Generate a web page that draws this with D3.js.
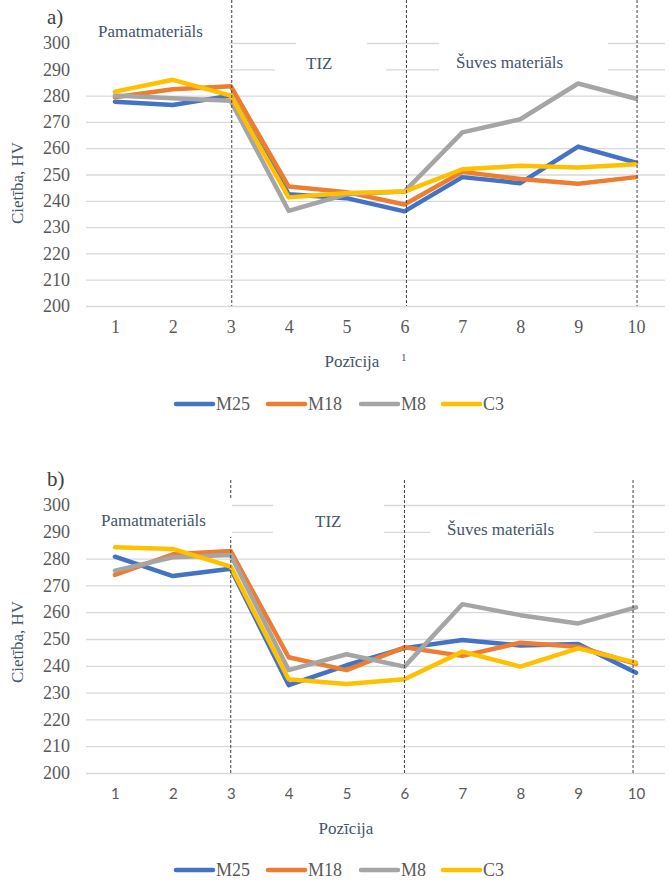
<!DOCTYPE html>
<html>
<head>
<meta charset="utf-8">
<script src="https://cdn.jsdelivr.net/npm/d3@7"></script>
<style>
  html, body { margin: 0; padding: 0; background: #fff; }
  svg { display: block; }
  .serif { font-family: "Liberation Serif", "Times New Roman", serif; }
  .sans { font-family: Lato, "Open Sans", sans-serif; }
</style>
</head>
<body>
<svg id="chart" width="670" height="890"></svg>
<script>
// Hardness profiles across the joint (positions 1–10)
const positions = [1, 2, 3, 4, 5, 6, 7, 8, 9, 10];
const seriesNames = ["M25", "M18", "M8", "C3"];
const seriesColors = ["#4472C4", "#ED7D31", "#A5A5A5", "#FFC000"];
const yTicks = [200, 210, 220, 230, 240, 250, 260, 270, 280, 290, 300];
const zoneBoundaries = [3, 6, 10];

// Panel a)
const a_M25 = [277.7, 276.4, 280.0, 242.5, 241.0, 236.0, 249.0, 246.7, 260.6, 254.5];
const a_M18 = [279.4, 282.4, 283.6, 245.4, 243.3, 238.6, 251.0, 248.3, 246.5, 249.0];
const a_M8  = [280.0, 279.0, 278.0, 236.2, 242.5, 243.5, 266.0, 271.0, 284.6, 278.8];
const a_C3  = [281.5, 286.0, 280.0, 241.3, 243.0, 243.5, 252.0, 253.3, 252.7, 253.9];

// Panel b)
const b_M25 = [280.7, 273.5, 276.2, 232.8, 240.2, 246.6, 249.6, 247.6, 248.1, 237.4];
const b_M18 = [273.9, 281.6, 282.8, 243.2, 238.4, 246.9, 243.7, 248.6, 247.1, 240.7];
const b_M8  = [275.5, 280.5, 281.3, 238.4, 244.3, 239.7, 263.0, 258.9, 255.8, 261.8];
const b_C3  = [284.2, 283.6, 277.0, 235.0, 233.2, 235.0, 245.3, 239.7, 246.5, 241.2];

const svg = d3.select("#chart");
const TITLE_COLOR = "#44546A";
const TICK_COLOR = "#595959";

function drawPanel(cfg) {
  const g = svg.append("g");
  const x = d3.scalePoint().domain(positions).range([86, 665]).padding(0.5);
  const y = d3.scaleLinear().domain([200, 300]).range([cfg.bottom, cfg.top]);

  // horizontal gridlines
  const grid = g.append("g")
    .attr("transform", "translate(86,0)")
    .call(d3.axisLeft(y).tickValues(yTicks).tickSizeInner(-(665 - 86)).tickSizeOuter(0).tickFormat(""));
  grid.select(".domain").remove();
  grid.selectAll(".tick line").attr("stroke", "#D9D9D9").attr("stroke-width", 1.3);

  // x axis with category labels
  const xAxis = g.append("g")
    .attr("transform", `translate(0,${cfg.bottom})`)
    .call(d3.axisBottom(x).tickSize(0).tickPadding(cfg.xPad));
  xAxis.attr("font-family", null);
  xAxis.select(".domain").remove();
  xAxis.selectAll(".tick text")
    .attr("class", cfg.xClass)
    .attr("fill", TICK_COLOR).attr("font-size", cfg.xSize);

  // series lines
  const line = d3.line().x((d, i) => x(positions[i])).y(d => y(d));
  cfg.data.forEach((vals, k) => {
    g.append("path")
      .datum(vals)
      .attr("d", line)
      .attr("fill", "none")
      .attr("stroke", seriesColors[k])
      .attr("stroke-width", 4.5)
      .attr("stroke-linejoin", "round")
      .attr("stroke-linecap", "round");
  });

  // zone boundaries
  zoneBoundaries.forEach((p, i) => {
    g.append("line")
      .attr("x1", x(p) + cfg.dashShift[i]).attr("x2", x(p) + cfg.dashShift[i])
      .attr("y1", cfg.dashTop).attr("y2", cfg.bottom)
      .attr("stroke", "#404040").attr("stroke-width", 1)
      .attr("stroke-dasharray", "3,2");
  });

  // text boxes (white background)
  cfg.boxes.forEach(b => {
    g.append("rect").attr("x", b[0]).attr("y", b[1]).attr("width", b[2]).attr("height", b[3]).attr("fill", "#fff");
  });
  cfg.labels.forEach(l => {
    g.append("text").attr("class", "serif").attr("x", l.x).attr("y", l.y)
      .attr("font-size", 17).attr("fill", TITLE_COLOR)
      .text(l.t);
  });

  // y tick labels
  const yLab = g.append("g")
    .attr("transform", "translate(86,0)")
    .call(d3.axisLeft(y).tickValues(yTicks).tickSize(0).tickPadding(16));
  yLab.attr("font-family", null);
  yLab.select(".domain").remove();
  yLab.selectAll(".tick text")
    .attr("class", "serif")
    .attr("fill", TICK_COLOR).attr("font-size", 18);

  // panel letter
  g.append("text").attr("class", "serif").attr("x", 47).attr("y", cfg.top - 19)
    .attr("font-size", 21).attr("fill", "#404040")
    .text(cfg.letter);

  // axis titles
  g.append("text").attr("class", "serif")
    .attr("transform", `translate(${23},${cfg.yTitleY}) rotate(-90)`)
    .attr("text-anchor", "middle")
    .attr("font-size", 17).attr("fill", TITLE_COLOR)
    .text("Cietība, HV");
  g.append("text").attr("class", "serif")
    .attr("x", cfg.xTitleX).attr("y", cfg.xTitleY)
    .attr("text-anchor", "middle")
    .attr("font-size", 17).attr("fill", TITLE_COLOR)
    .text("Pozīcija");

  // legend
  const legendX = [176, 268, 361, 443];
  seriesNames.forEach((name, k) => {
    const lg = g.append("g");
    lg.append("line")
      .attr("x1", legendX[k]).attr("x2", legendX[k] + 37)
      .attr("y1", cfg.legendY).attr("y2", cfg.legendY)
      .attr("stroke", seriesColors[k]).attr("stroke-width", 4.5).attr("stroke-linecap", "round");
    lg.append("text").attr("class", "serif")
      .attr("x", legendX[k] + 40).attr("y", cfg.legendY + 6)
      .attr("font-size", 18).attr("fill", TICK_COLOR)
      .text(name);
  });
  return g;
}

const gA = drawPanel({
  letter: "a)", top: 43, bottom: 306, dashTop: 0, dashShift: [1, 2, 1],
  data: [a_M25, a_M18, a_M8, a_C3],
  xClass: "serif", xSize: 18, xPad: 14,
  boxes: [[86, 20, 143, 56], [296, 38, 71, 10], [275, 48, 111, 30], [439, 38, 169, 40]],
  labels: [{x: 98, y: 37, t: "Pamatmateriāls"}, {x: 306, y: 69, t: "TIZ"}, {x: 456, y: 68, t: "Šuves materiāls"}],
  yTitleY: 183, xTitleX: 352, xTitleY: 367, legendY: 404
});
// small mark under the axis
gA.append("text").attr("class", "serif").attr("x", 401).attr("y", 361)
  .attr("font-size", 11).attr("fill", "#44546A").text("1");

drawPanel({
  letter: "b)", top: 505, bottom: 773, dashTop: 480, dashShift: [0, 0, -3],
  data: [b_M25, b_M18, b_M8, b_C3],
  xClass: "sans", xSize: 15, xPad: 15,
  boxes: [[86, 498, 146, 39], [273, 500, 111, 40], [430, 512, 164, 30]],
  labels: [{x: 101, y: 526, t: "Pamatmateriāls"}, {x: 315, y: 527, t: "TIZ"}, {x: 447, y: 535, t: "Šuves materiāls"}],
  yTitleY: 642, xTitleX: 346, xTitleY: 834, legendY: 870
});
</script>
</body>
</html>
